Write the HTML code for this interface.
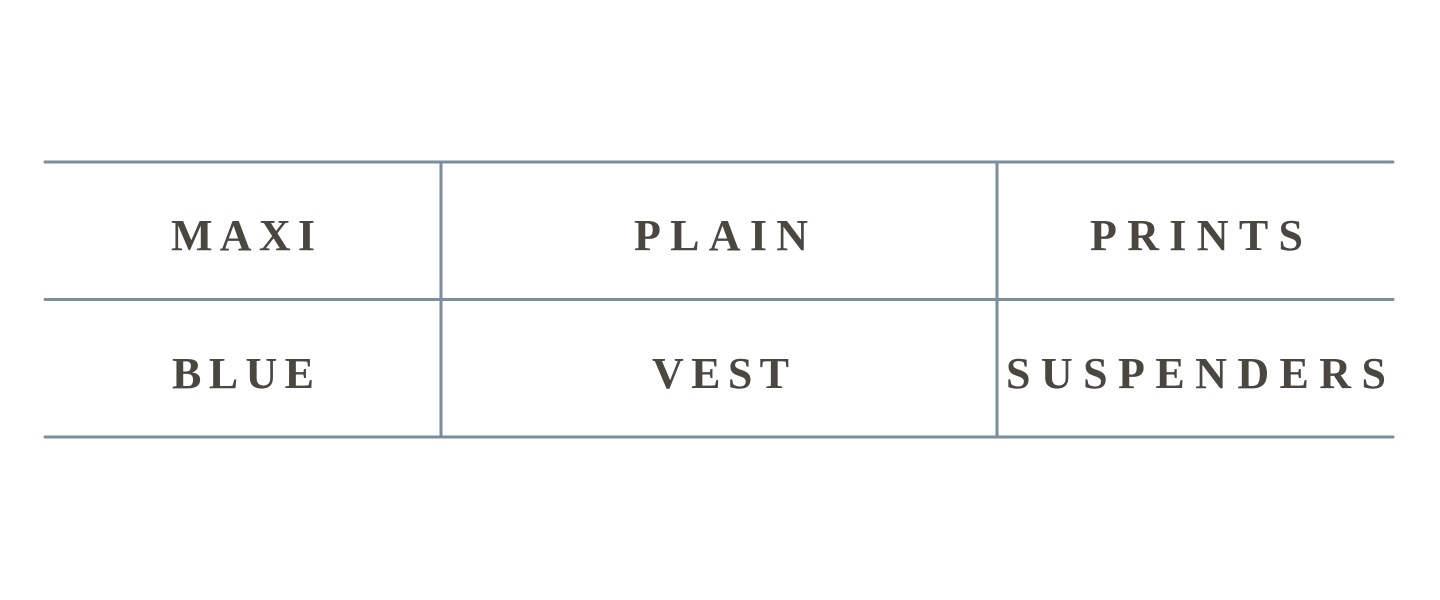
<!DOCTYPE html>
<html><head><meta charset="utf-8"><style>
html,body{margin:0;padding:0;background:#fff;width:1440px;height:600px;overflow:hidden}
</style></head><body>
<svg width="1440" height="600" xmlns="http://www.w3.org/2000/svg">
<g stroke="#7a8e9c" stroke-width="3" stroke-linecap="round">
<line x1="45" y1="162" x2="1393" y2="162"/>
<line x1="45" y1="299.5" x2="1393" y2="299.5"/>
<line x1="45" y1="437" x2="1393" y2="437"/>
<line x1="441" y1="162" x2="441" y2="437"/>
<line x1="997" y1="162" x2="997" y2="437"/>
</g>
<g fill="#4a4640" font-family="Liberation Serif, serif" font-weight="bold" font-size="44">
<text x="171" y="250" textLength="144" lengthAdjust="spacing">MAXI</text>
<text x="634" y="250" textLength="174" lengthAdjust="spacing">PLAIN</text>
<text x="1090" y="250" textLength="213" lengthAdjust="spacing">PRINTS</text>
<text x="172" y="388" textLength="142" lengthAdjust="spacing">BLUE</text>
<text x="652" y="388" textLength="137" lengthAdjust="spacing">VEST</text>
<text x="1006" y="388" textLength="380" lengthAdjust="spacing">SUSPENDERS</text>
</g>
</svg>
</body></html>
